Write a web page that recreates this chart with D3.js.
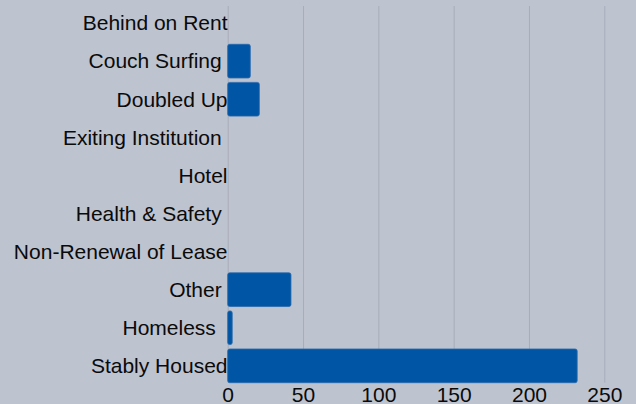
<!DOCTYPE html>
<html>
<head>
<meta charset="utf-8">
<script src="https://cdn.jsdelivr.net/npm/d3@7"></script>
<style>
  html, body { margin: 0; padding: 0; background: #bdc3cf; }
  svg { display: block; }
  .cat-label { white-space: pre; }
</style>
</head>
<body>
<div id="chart"></div>
<script>
//data
var categories = ['Behind on Rent', 'Couch Surfing ', 'Doubled Up', 'Exiting Institution ', 'Hotel',
    'Health & Safety ', 'Non-Renewal of Lease', 'Other ', 'Homeless  ', 'Stably Housed'];
var counts = [0, 15, 21, 0, 0, 0, 0, 42, 3, 232];
var xTicks = [0, 50, 100, 150, 200, 250];

//sizes
var outerW = 636,
    outerH = 404;

var barData = categories.map(function(c, i) {
    return { cat: c, value: counts[i] };
});

var svg = d3.select('#chart').append('svg')
    .attr('width', outerW)
    .attr('height', outerH);

svg.append('rect')
    .attr('width', outerW)
    .attr('height', outerH)
    .attr('fill', '#bdc3cf');

//scales
var xScale = d3.scaleLinear()
    .domain([0, 250])
    .range([227.7, 604.3]);

var yScale = d3.scaleBand()
    .domain(categories)
    .range([6.2, 382.7])
    .paddingInner(0.115)
    .paddingOuter(0);

//gridlines
var grid = d3.axisBottom(xScale)
    .tickValues(xTicks)
    .tickSize(-(382.7 - 6))
    .tickFormat('');

svg.append('g')
    .attr('class', 'grid')
    .attr('transform', 'translate(0,382.7)')
    .call(grid)
    .call(function(g) {
        g.select('.domain').remove();
        g.selectAll('.tick line').attr('stroke', '#a7adb9').attr('stroke-width', 1);
    });

//bars
svg.append('g')
    .selectAll('rect')
    .data(barData)
    .enter().append('rect')
    .attr('x', xScale(0))
    .attr('y', function(d) { return yScale(d.cat); })
    .attr('width', function(d) { return xScale(d.value) - xScale(0); })
    .attr('height', yScale.bandwidth())
    .attr('rx', 2)
    .attr('fill', '#0055a4')
    .attr('stroke', '#2a69ad')
    .attr('stroke-width', 0.8);

//category labels
svg.append('g')
    .selectAll('text')
    .data(categories)
    .enter().append('text')
    .attr('class', 'cat-label')
    .attr('x', 227.5)
    .attr('y', function(d) { return yScale(d) + yScale.bandwidth() / 2; })
    .attr('dy', '0.35em')
    .attr('text-anchor', 'end')
    .attr('font-family', '"Liberation Sans", Arial, sans-serif')
    .attr('font-size', 21)
    .attr('fill', '#0a0a0a')
    .text(function(d) { return d; });

//x axis labels
var xAxis = d3.axisBottom(xScale)
    .tickValues(xTicks)
    .tickSize(0)
    .tickPadding(4);

svg.append('g')
    .attr('transform', 'translate(0,382.7)')
    .call(xAxis)
    .call(function(g) {
        g.select('.domain').remove();
        g.selectAll('text')
            .attr('font-family', '"Liberation Sans", Arial, sans-serif')
            .attr('font-size', 21)
            .attr('fill', '#0a0a0a');
    });
</script>
</body>
</html>
